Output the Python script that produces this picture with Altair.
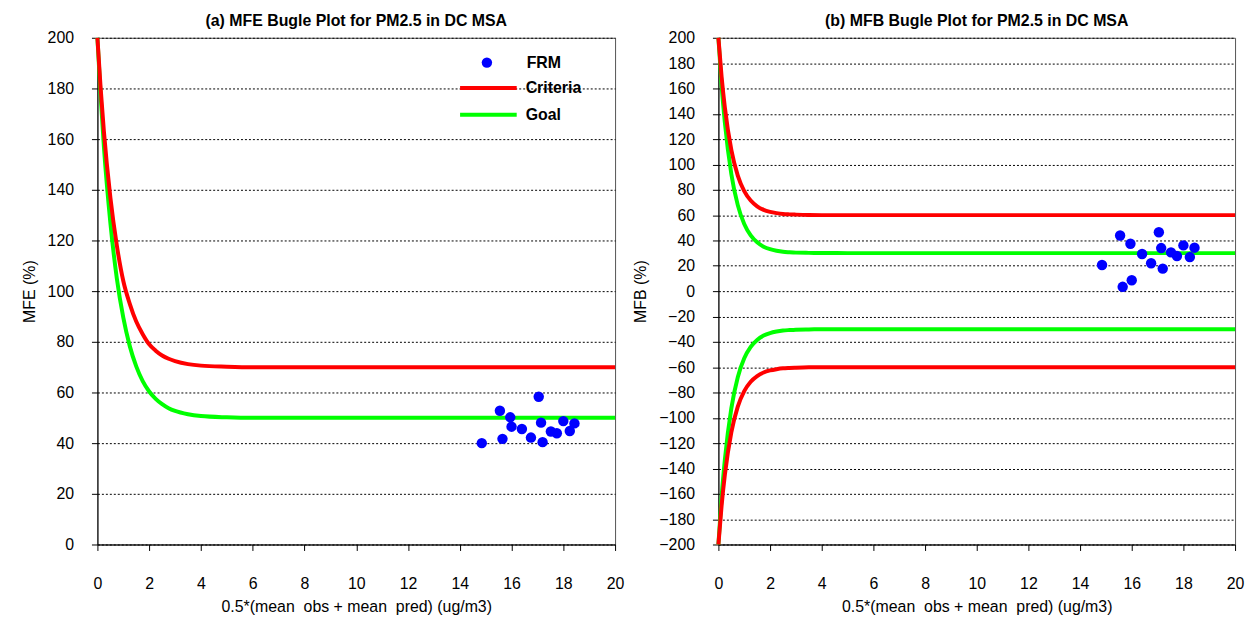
import altair as alt
import pandas as pd

# ---------------- data ----------------
TITLE_A = "(a) MFE Bugle Plot for PM2.5 in DC MSA"
TITLE_B = "(b) MFB Bugle Plot for PM2.5 in DC MSA"
X_TITLE = "0.5*(mean\u00a0 obs + mean\u00a0 pred) (ug/m3)"
Y_TITLE_A = "MFE (%)"
Y_TITLE_B = "MFB (%)"

# FRM sites: average concentration, MFE and MFB
site_x = [14.85, 15.55, 15.65, 15.95, 16.0, 16.4, 16.75, 17.05, 17.14, 17.2,
          17.52, 17.75, 18.0, 18.25, 18.43]
site_mfe = [40.0, 52.8, 41.7, 50.2, 46.5, 45.6, 42.2, 58.3, 48.1, 40.4,
            44.6, 43.9, 48.7, 44.8, 47.8]
site_mfb = [20.6, 43.9, 3.4, 37.4, 8.6, 29.3, 22.0, 46.5, 34.0, 17.8,
            30.6, 27.7, 36.1, 26.9, 34.3]

# bugle curves, read at these concentrations
curve_x = [0, 0.125, 0.25, 0.5, 0.75, 1, 1.25, 1.5, 1.75, 2, 2.25, 2.5, 2.75,
           3, 3.5, 4, 5, 6, 20]
mfe_criteria = [200, 180, 163, 137, 118, 104, 95, 88, 83, 79, 76.5, 74.6, 73.3,
                72.4, 71.2, 70.6, 70.2, 70, 70]
mfe_goal = [200, 177, 157, 127, 105, 89.5, 78.3, 70.3, 64.5, 60.4, 57.5, 55.4, 53.8,
            52.7, 51.4, 50.7, 50.2, 50, 50]
mfb_criteria = [200, 169, 145, 111.5, 91.2, 78.9, 71.5, 67.0, 64.2, 62.6, 61.6, 60.9,
                60.6, 60.4, 60.1, 60, 60, 60, 60]
mfb_goal = [200, 162, 133, 92.5, 67.9, 53.0, 44.0, 38.5, 35.1, 33.1, 31.9, 31.1,
            30.7, 30.4, 30.2, 30.1, 30, 30, 30]

x_ticks = list(range(0, 21, 2))
y_ticks_a = list(range(0, 201, 20))
y_ticks_b = list(range(-200, 201, 20))

FONT = "Liberation Sans, Arial, Helvetica, sans-serif"
BLUE, RED, GREEN = "#0000ff", "#ff0000", "#00ff00"

# ---------------- tables ----------------
pts = pd.DataFrame({"x": site_x, "MFE": site_mfe, "MFB": site_mfb, "series": "FRM"})


def curve_table(crit, goal, mirror):
    rows = []
    for xv, c, g in zip(curve_x, crit, goal):
        rows.append({"x": xv, "y": g, "series": "Goal", "branch": "g+"})
        rows.append({"x": xv, "y": c, "series": "Criteria", "branch": "c+"})
        if mirror:
            rows.append({"x": xv, "y": -g, "series": "Goal", "branch": "g-"})
            rows.append({"x": xv, "y": -c, "series": "Criteria", "branch": "c-"})
    return pd.DataFrame(rows)


fill_scale = alt.Scale(domain=["FRM"], range=[BLUE])
stroke_scale = alt.Scale(domain=["Criteria", "Goal"], range=[RED, GREEN])


def panel(title, ytitle, yfield, ydomain, yticks, ctab, legends, width):
    xscale = alt.Scale(domain=[0, 20], nice=False, zero=False)
    xaxis = alt.Axis(values=x_ticks, title=X_TITLE, grid=False, labelFlush=False,
                     labelPadding=25, titlePadding=7)
    yscale = alt.Scale(domain=ydomain, nice=False, zero=False)
    yaxis = alt.Axis(values=yticks, title=ytitle, grid=True, gridDash=[2, 2],
                     gridColor="#000000", labelPadding=18, titlePadding=10,
                     labelOverlap=False, labelFlush=False)
    if legends:
        fleg = alt.Legend(title=None, orient="none", legendX=384, legendY=17,
                          symbolSize=110, symbolType="circle", labelOffset=32,
                          labelFontSize=16, labelFontWeight="bold", labelFont=FONT,
                          padding=0, symbolStrokeWidth=0, labelColor="#000000")
        sleg = alt.Legend(title=None, orient="none", legendX=382, legendY=39,
                          symbolType="M-3,0H3", symbolSize=361, symbolStrokeWidth=4,
                          labelOffset=26, rowPadding=7, padding=0,
                          labelFontSize=16, labelFontWeight="bold", labelFont=FONT,
                          labelColor="#000000")
    else:
        fleg = None
        sleg = None

    xenc = alt.X("x:Q", scale=xscale, axis=xaxis)
    base = alt.Chart(ctab)
    goal = base.transform_filter("datum.series == 'Goal'").mark_line(
        strokeWidth=4, interpolate="monotone").encode(
        x=xenc,
        y=alt.Y("y:Q", scale=yscale, axis=yaxis),
        stroke=alt.Stroke("series:N", scale=stroke_scale, legend=sleg),
        detail="branch:N",
    )
    crit = base.transform_filter("datum.series == 'Criteria'").mark_line(
        strokeWidth=4, interpolate="monotone").encode(
        x=xenc,
        y=alt.Y("y:Q", scale=yscale, axis=yaxis),
        stroke=alt.Stroke("series:N", scale=stroke_scale, legend=sleg),
        detail="branch:N",
    )
    dots = alt.Chart(pts).mark_circle(size=110, opacity=1).encode(
        x=xenc,
        y=alt.Y(f"{yfield}:Q", scale=yscale, axis=yaxis),
        fill=alt.Fill("series:N", scale=fill_scale, legend=fleg),
    )
    return alt.layer(goal, crit, dots).properties(
        width=width, height=510,
        title=alt.TitleParams(title, fontSize=16, fontWeight="bold", font=FONT,
                              offset=1, color="#000000"),
    )


left = panel(TITLE_A, Y_TITLE_A, "MFE", [0, 200], y_ticks_a,
             curve_table(mfe_criteria, mfe_goal, False), True, 521)
right = panel(TITLE_B, Y_TITLE_B, "MFB", [-200, 200], y_ticks_b,
              curve_table(mfb_criteria, mfb_goal, True), False, 520)

chart = alt.hconcat(left, right, spacing=7).resolve_scale(
    fill="independent", stroke="independent"
).resolve_legend(fill="independent", stroke="independent").properties(
    padding={"left": 12, "top": 2, "right": 0, "bottom": 0}
).configure_view(
    stroke="#555555", strokeWidth=1
).configure_axis(
    labelFont=FONT, labelFontSize=16, labelColor="#000000",
    titleFont=FONT, titleFontSize=16, titleFontWeight="normal", titleColor="#000000",
    domainColor="#000000", tickColor="#000000", tickSize=6,
)

chart.save("out.html", embed_options={"renderer": "svg", "actions": False})
